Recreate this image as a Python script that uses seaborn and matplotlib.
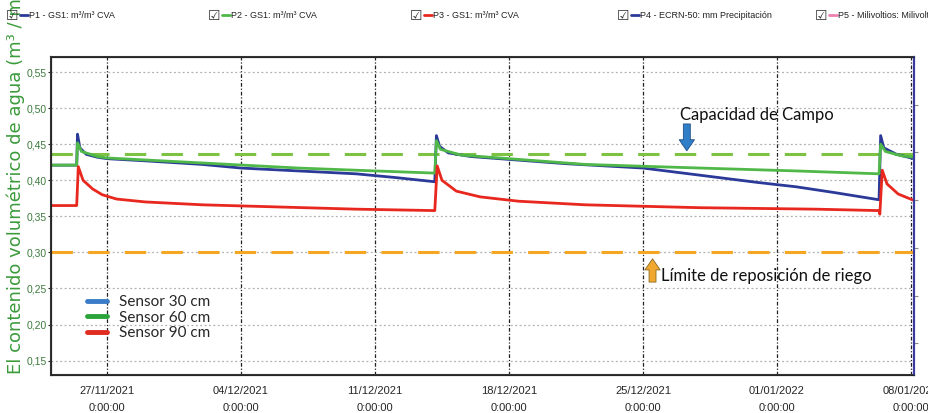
import pandas as pd
import matplotlib
matplotlib.use("Agg")
import matplotlib.pyplot as plt
import matplotlib.dates as mdates
from matplotlib.lines import Line2D
from matplotlib.ticker import FuncFormatter
import seaborn as sns

# sensor readings (volumetric water content, m3/m3)
t30 = ["2021-11-24 02:00", "2021-11-25 10:00", "2021-11-25 11:00", "2021-11-25 14:00",
       "2021-11-25 22:00", "2021-11-26 12:00", "2021-11-27 00:00", "2021-11-29 00:00",
       "2021-12-02 00:00", "2021-12-04 00:00", "2021-12-07 00:00", "2021-12-10 00:00",
       "2021-12-12 00:00", "2021-12-14 03:00", "2021-12-14 05:00", "2021-12-14 09:00",
       "2021-12-14 20:00", "2021-12-16 00:00", "2021-12-18 00:00", "2021-12-21 00:00",
       "2021-12-25 00:00", "2021-12-28 00:00", "2021-12-31 00:00", "2022-01-02 00:00",
       "2022-01-04 00:00", "2022-01-06 08:00", "2022-01-06 10:00", "2022-01-06 14:00",
       "2022-01-07 06:00", "2022-01-08 04:00"]
v30 = [0.421, 0.421, 0.464, 0.445, 0.436, 0.432, 0.430, 0.427, 0.422, 0.417, 0.413, 0.409,
       0.404, 0.398, 0.462, 0.447, 0.438, 0.433, 0.429, 0.423, 0.417, 0.407, 0.397, 0.391,
       0.383, 0.373, 0.462, 0.445, 0.436, 0.430]

t60 = ["2021-11-24 02:00", "2021-11-25 10:00", "2021-11-25 11:00", "2021-11-25 16:00",
       "2021-11-26 12:00", "2021-11-27 00:00", "2021-12-02 00:00", "2021-12-07 00:00",
       "2021-12-11 00:00", "2021-12-14 03:00", "2021-12-14 05:00", "2021-12-14 10:00",
       "2021-12-15 12:00", "2021-12-18 00:00", "2021-12-22 00:00", "2021-12-28 00:00",
       "2022-01-02 00:00", "2022-01-06 08:00", "2022-01-06 10:00", "2022-01-06 16:00",
       "2022-01-07 12:00", "2022-01-08 04:00"]
v60 = [0.421, 0.421, 0.452, 0.440, 0.433, 0.431, 0.424, 0.417, 0.413, 0.410, 0.455, 0.443,
       0.435, 0.430, 0.422, 0.417, 0.413, 0.409, 0.450, 0.440, 0.434, 0.432]

t90 = ["2021-11-24 02:00", "2021-11-25 10:00", "2021-11-25 12:00", "2021-11-25 18:00",
       "2021-11-26 06:00", "2021-11-26 18:00", "2021-11-27 12:00", "2021-11-29 00:00",
       "2021-12-02 00:00", "2021-12-06 00:00", "2021-12-10 00:00", "2021-12-14 03:00",
       "2021-12-14 06:00", "2021-12-14 12:00", "2021-12-15 06:00", "2021-12-16 12:00",
       "2021-12-18 12:00", "2021-12-22 00:00", "2021-12-28 00:00", "2022-01-03 00:00",
       "2022-01-06 08:00", "2022-01-06 09:00", "2022-01-06 12:00", "2022-01-06 18:00",
       "2022-01-07 08:00", "2022-01-08 04:00"]
v90 = [0.365, 0.365, 0.419, 0.400, 0.388, 0.380, 0.374, 0.370, 0.366, 0.363, 0.360, 0.358,
       0.420, 0.400, 0.385, 0.377, 0.371, 0.366, 0.362, 0.360, 0.358, 0.353, 0.414, 0.395,
       0.381, 0.372]

sensors = ["Sensor 30 cm", "Sensor 60 cm", "Sensor 90 cm"]
line_colors = ["#2b3a98", "#4fb848", "#e8281e"]
legend_colors = ["#3a7cc8", "#2aa33a", "#e02b20"]

field_capacity = 0.436
refill_limit = 0.300

top_items = ["P1 - GS1: m³/m³ CVA", "P2 - GS1: m³/m³ CVA", "P3 - GS1: m³/m³ CVA",
             "P4 - ECRN-50: mm Precipitación", "P5 - Milivoltios: Milivoltios"]
top_colors = ["#2b3a98", "#4fb848", "#e8281e", "#2b3a98", "#ee7fb0"]

df = pd.concat([
    pd.DataFrame({"time": pd.to_datetime(t), "value": v, "sensor": s})
    for t, v, s in zip([t30, t60, t90], [v30, v60, v90], sensors)
])

sns.set_style("white")
plt.rcParams["font.family"] = ["Liberation Sans Narrow", "Liberation Sans", "DejaVu Sans"]

fig = plt.figure(figsize=(9.29, 4.13), dpi=100)
ax = fig.add_axes([51 / 929, 1 - 375 / 413, 863 / 929, 318 / 413])

sns.lineplot(data=df, x="time", y="value", hue="sensor", palette=dict(zip(sensors, line_colors)),
             estimator=None, sort=False, legend=False, linewidth=2, ax=ax)

ax.axhline(field_capacity, color="#7dc242", linestyle=(0, (7, 5)), linewidth=2.2, zorder=1)
ax.axhline(refill_limit, color="#f5a623", linestyle=(0, (7, 5)), linewidth=2.2, zorder=1)

ax.set_xlim(pd.Timestamp("2021-11-24 01:47"), pd.Timestamp("2022-01-08 03:50"))
ax.set_ylim(0.13, 0.571)
ax.set_yticks([0.15, 0.20, 0.25, 0.30, 0.35, 0.40, 0.45, 0.50, 0.55])
ax.yaxis.set_major_formatter(FuncFormatter(lambda v, p: f"{v:.2f}".replace(".", ",")))
ax.xaxis.set_major_locator(mdates.WeekdayLocator(byweekday=mdates.SA))
ax.xaxis.set_major_formatter(mdates.DateFormatter("%d/%m/%Y\n0:%M:%S"))
ax.set_xlabel("")
ax.set_ylabel("")

ax.grid(axis="y", color="#b0b0b0", linestyle=(0, (1.5, 2)), linewidth=0.9)
ax.grid(axis="x", color="#222222", linestyle=(0, (3, 1.5, 1, 1.5)), linewidth=0.9)
ax.tick_params(axis="y", labelsize=7.5, labelcolor="#3d7a3d", length=2, pad=1)
ax.tick_params(axis="x", labelsize=8, length=5, pad=3)
for lab in ax.get_xticklabels():
    lab.set_linespacing(1.8)
for side in ["left", "top", "bottom"]:
    ax.spines[side].set_color("#333333")
    ax.spines[side].set_linewidth(1.5)
ax.spines["right"].set_color("#3a3aa0")
ax.spines["right"].set_linewidth(1.5)

ax2 = ax.twinx()
ax2.set_ylim(0, 1)
ax2.set_yticks([0.1, 0.25, 0.4, 0.55, 0.7, 0.85])
ax2.tick_params(axis="y", length=3, color="#888888", labelright=False)
ax2.spines["right"].set_color("#3a3aa0")
ax2.spines["right"].set_linewidth(1.5)

# annotations
ax.text(pd.Timestamp("2021-12-26 22:00"), 0.491, "Capacidad de Campo", family="Lato",
        fontsize=12, va="center", ha="left", color="#111111")
ax.annotate("", xy=(pd.Timestamp("2021-12-27 07:00"), 0.437),
            xytext=(pd.Timestamp("2021-12-27 07:00"), 0.482),
            arrowprops=dict(arrowstyle="simple,head_width=1.1,head_length=0.8,tail_width=0.5",
                            fc="#2f7fc8", ec="#1f4f88", lw=0.6))
ax.text(pd.Timestamp("2021-12-25 23:00"), 0.267, "Límite de reposición de riego", family="Lato",
        fontsize=12, va="center", ha="left", color="#111111")
ax.annotate("", xy=(pd.Timestamp("2021-12-25 12:00"), 0.295),
            xytext=(pd.Timestamp("2021-12-25 12:00"), 0.255),
            arrowprops=dict(arrowstyle="simple,head_width=1.1,head_length=0.8,tail_width=0.5",
                            fc="#f0a830", ec="#8a6a20", lw=0.6))

handles = [Line2D([], [], color=c, linewidth=3.5) for c in legend_colors]
leg = ax.legend(handles, sensors, loc="upper left", bbox_to_anchor=(0.035, 0.27), frameon=False,
                prop={"family": "Lato", "size": 11}, handlelength=1.3, handletextpad=0.8,
                labelspacing=0.1, borderaxespad=0)

# y label (clipped at top like the reference)
fig.text(16 / 929, 1 - 374 / 413, "El contenido volumétrico de agua (m³ / m³)", rotation=90,
         ha="center", va="bottom", fontsize=13, color="#3a9a3a", family="DejaVu Sans")

# top series selector strip
xs = [6, 208, 410, 617, 815]
for x0, txt, c in zip(xs, top_items, top_colors):
    fig.text(x0 / 929, 1 - 16 / 413, "☑", fontsize=10, va="center", ha="left",
             family="DejaVu Sans", color="#333333")
    fig.add_artist(Line2D([(x0 + 14) / 929, (x0 + 22) / 929], [1 - 15 / 413] * 2,
                          color=c, linewidth=2, transform=fig.transFigure))
    fig.text((x0 + 23) / 929, 1 - 15 / 413, txt, fontsize=6.5, va="center", ha="left",
             color="#222222")

fig.savefig("out.png", dpi=100)
